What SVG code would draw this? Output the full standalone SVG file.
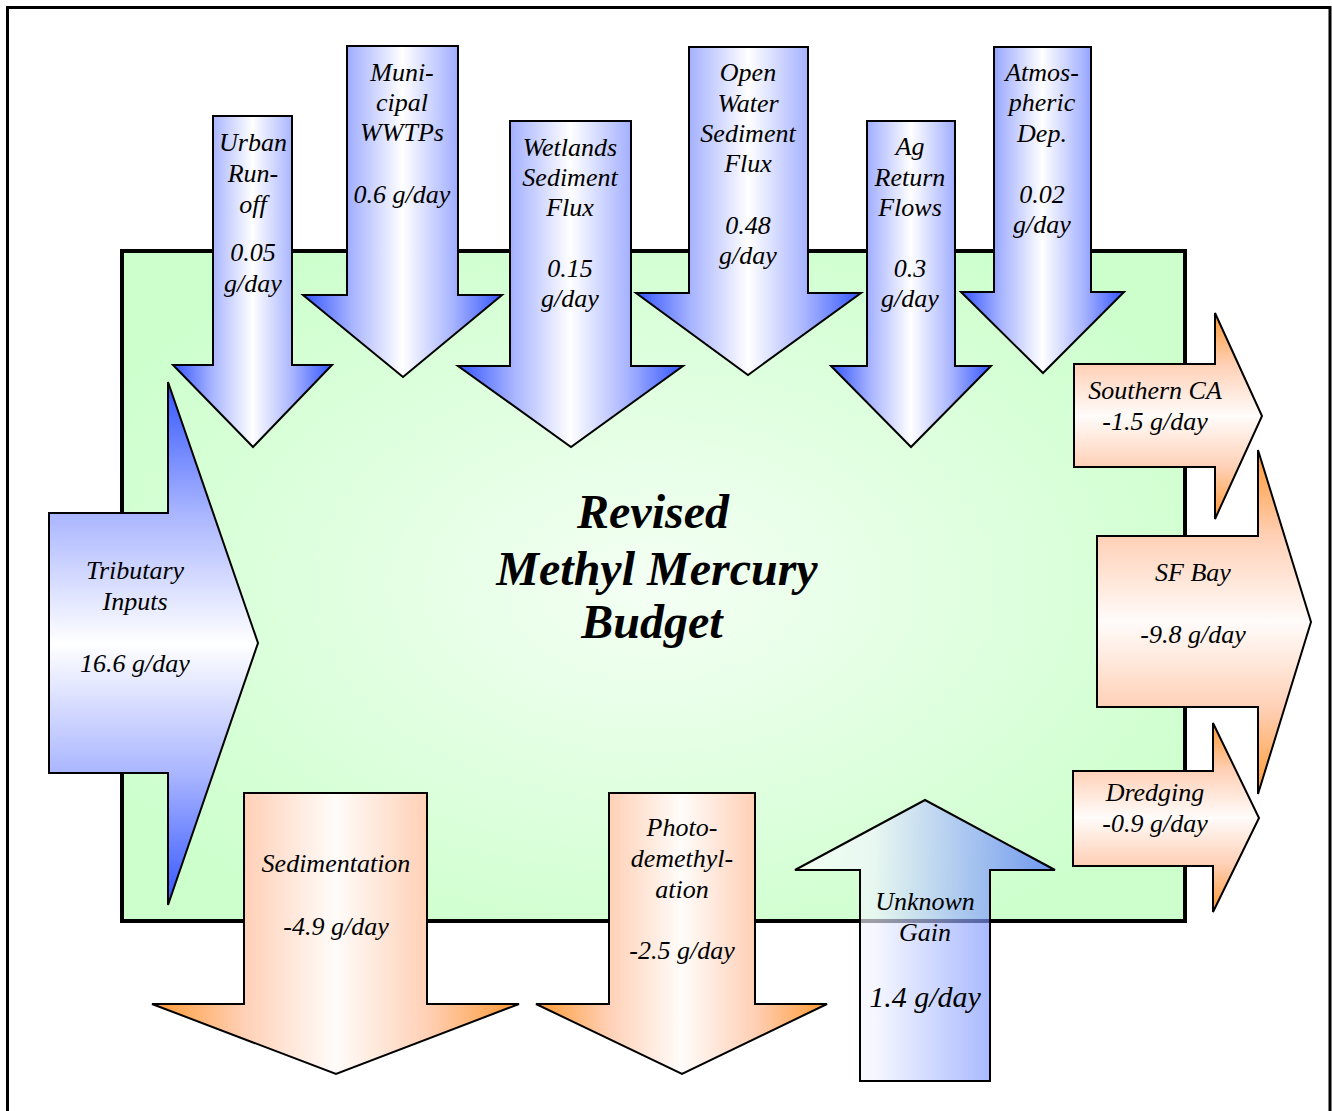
<svg xmlns="http://www.w3.org/2000/svg" width="1332" height="1111" viewBox="0 0 1332 1111">
<style>
.arr{stroke:#000;stroke-width:2;stroke-linejoin:miter}
.t{font-family:"Liberation Serif","Times New Roman",serif;font-style:italic;font-size:26px;fill:#000;text-anchor:middle}
.title{font-family:"Liberation Serif","Times New Roman",serif;font-style:italic;font-weight:bold;font-size:48px;fill:#000;text-anchor:middle}
</style>
<defs>
<linearGradient id="blueH" x1="0" y1="0" x2="1" y2="0">
<stop offset="0" stop-color="#3355ff"/><stop offset="0.25" stop-color="#a9b5ff"/><stop offset="0.5" stop-color="#ffffff"/><stop offset="0.75" stop-color="#a9b5ff"/><stop offset="1" stop-color="#3355ff"/>
</linearGradient>
<linearGradient id="blueV" x1="0" y1="0" x2="0" y2="1">
<stop offset="0" stop-color="#3355ff"/><stop offset="0.25" stop-color="#a9b5ff"/><stop offset="0.5" stop-color="#ffffff"/><stop offset="0.75" stop-color="#a9b5ff"/><stop offset="1" stop-color="#3355ff"/>
</linearGradient>
<linearGradient id="orH" x1="0" y1="0" x2="1" y2="0">
<stop offset="0" stop-color="#ff9933"/><stop offset="0.25" stop-color="#ffd0b6"/><stop offset="0.5" stop-color="#fffcfa"/><stop offset="0.75" stop-color="#ffd0b6"/><stop offset="1" stop-color="#ff9933"/>
</linearGradient>
<linearGradient id="orV" x1="0" y1="0" x2="0" y2="1">
<stop offset="0" stop-color="#ff9933"/><stop offset="0.25" stop-color="#ffd0b6"/><stop offset="0.5" stop-color="#fffcfa"/><stop offset="0.75" stop-color="#ffd0b6"/><stop offset="1" stop-color="#ff9933"/>
</linearGradient>
<linearGradient id="gain" x1="0" y1="0" x2="1" y2="0">
<stop offset="0" stop-color="#ffffff"/><stop offset="0.3" stop-color="#f2f4ff"/><stop offset="1" stop-color="#3a60ff"/>
</linearGradient>
<radialGradient id="green" cx="0.5" cy="0.5" r="0.6">
<stop offset="0" stop-color="#f4fff4"/><stop offset="0.35" stop-color="#e6ffe6"/><stop offset="1" stop-color="#ccffcc"/>
</radialGradient>
</defs>

<rect id="frame" x="7.5" y="7.5" width="1322.5" height="1110" fill="#fff" stroke="#000" stroke-width="3"/>

<g id="budget">
<rect x="122" y="251" width="1063" height="670" fill="url(#green)" stroke="#000" stroke-width="4"/>
<text class="title" x="653" y="528">Revised</text>
<text class="title" x="657" y="585">Methyl Mercury</text>
<text class="title" x="652" y="638">Budget</text>
</g>

<g id="connectors">
<g id="urban">
<polygon class="arr" fill="url(#blueH)" points="213,116 292,116 292,365 332,365 253,447 173,365 213,365"/>
<text class="t" x="253" y="151">Urban</text><text class="t" x="253" y="182">Run-</text><text class="t" x="253" y="213">off</text>
<text class="t" x="253" y="261">0.05</text><text class="t" x="253" y="292">g/day</text>
</g>
<g id="municipal">
<polygon class="arr" fill="url(#blueH)" points="347,46 458,46 458,295 502,295 403,377 303,295 347,295"/>
<text class="t" x="402" y="81">Muni-</text><text class="t" x="402" y="111">cipal</text><text class="t" x="402" y="141">WWTPs</text>
<text class="t" x="402" y="203">0.6 g/day</text>
</g>
<g id="wetlands">
<polygon class="arr" fill="url(#blueH)" points="510,121 631,121 631,366 683,366 571,447 458,366 510,366"/>
<text class="t" x="570" y="156">Wetlands</text><text class="t" x="570" y="186">Sediment</text><text class="t" x="570" y="216">Flux</text>
<text class="t" x="570" y="277">0.15</text><text class="t" x="570" y="307">g/day</text>
</g>
<g id="openwater">
<polygon class="arr" fill="url(#blueH)" points="689,47 808,47 808,293 861,293 748,375 636,293 689,293"/>
<text class="t" x="748" y="81">Open</text><text class="t" x="748" y="112">Water</text><text class="t" x="748" y="142">Sediment</text><text class="t" x="748" y="172">Flux</text>
<text class="t" x="748" y="234">0.48</text><text class="t" x="748" y="264">g/day</text>
</g>
<g id="ag">
<polygon class="arr" fill="url(#blueH)" points="867,121 955,121 955,366 991,366 911,447 831,366 867,366"/>
<text class="t" x="910" y="155">Ag</text><text class="t" x="910" y="186">Return</text><text class="t" x="910" y="216">Flows</text>
<text class="t" x="910" y="277">0.3</text><text class="t" x="910" y="307">g/day</text>
</g>
<g id="atmos">
<polygon class="arr" fill="url(#blueH)" points="994,47 1091,47 1091,292 1124,292 1043,373 961,292 994,292"/>
<text class="t" x="1042" y="81">Atmos-</text><text class="t" x="1042" y="111">pheric</text><text class="t" x="1042" y="142">Dep.</text>
<text class="t" x="1042" y="203">0.02</text><text class="t" x="1042" y="233">g/day</text>
</g>
<g id="tributary">
<polygon class="arr" fill="url(#blueV)" points="49,513 168,513 168,382 258,643 168,905 168,773 49,773"/>
<text class="t" x="135" y="579">Tributary</text><text class="t" x="135" y="610">Inputs</text>
<text class="t" x="135" y="672">16.6 g/day</text>
</g>
<g id="southernca">
<polygon class="arr" fill="url(#orV)" points="1074,364 1215,364 1215,313 1262,416 1215,519 1215,467 1074,467"/>
<text class="t" x="1155" y="399">Southern CA</text><text class="t" x="1155" y="430">-1.5 g/day</text>
</g>
<g id="sfbay">
<polygon class="arr" fill="url(#orV)" points="1097,536 1258,536 1258,450 1311,622 1258,794 1258,707 1097,707"/>
<text class="t" x="1193" y="581">SF Bay</text><text class="t" x="1193" y="643">-9.8 g/day</text>
</g>
<g id="dredging">
<polygon class="arr" fill="url(#orV)" points="1073,771 1213,771 1213,723 1259,818 1213,912 1213,866 1073,866"/>
<text class="t" x="1155" y="801">Dredging</text><text class="t" x="1155" y="832">-0.9 g/day</text>
</g>
<g id="sedimentation">
<polygon class="arr" fill="url(#orH)" points="244,793 427,793 427,1004 519,1004 336,1074 152,1004 244,1004"/>
<text class="t" x="336" y="872">Sedimentation</text><text class="t" x="336" y="935">-4.9 g/day</text>
</g>
<g id="photo">
<polygon class="arr" fill="url(#orH)" points="609,793 755,793 755,1004 827,1004 682,1074 536,1004 609,1004"/>
<text class="t" x="682" y="836">Photo-</text><text class="t" x="682" y="867">demethyl-</text><text class="t" x="682" y="898">ation</text>
<text class="t" x="682" y="959">-2.5 g/day</text>
</g>
<g id="unknown">
<polygon class="arr" fill="url(#gain)" fill-opacity="0.65" points="925,800 1055,870 990,870 990,1081 860,1081 860,870 795,870"/>
<text class="t" x="925" y="910">Unknown</text><text class="t" x="925" y="941">Gain</text>
<text class="t" x="925" y="1007" style="font-size:30px">1.4 g/day</text>
</g>
</g>
</svg>
